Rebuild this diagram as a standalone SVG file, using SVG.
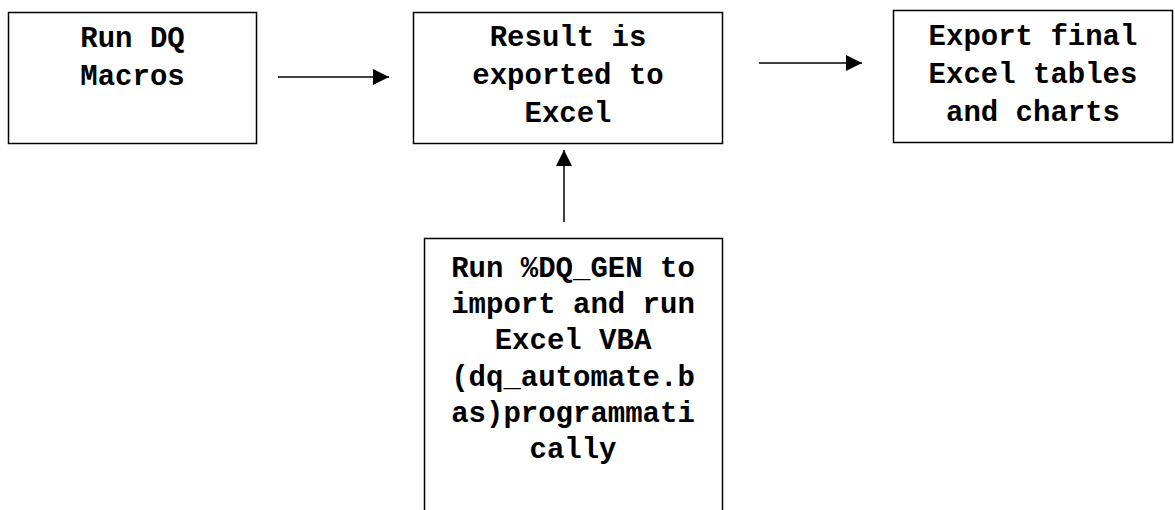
<svg xmlns="http://www.w3.org/2000/svg" width="1175" height="510" viewBox="0 0 1175 510">
<defs>
<marker id="ah" markerWidth="16" markerHeight="16" refX="16" refY="8" orient="auto" markerUnits="userSpaceOnUse">
<path d="M0,0 L16,8 L0,16 Z" fill="#000"/>
</marker>
<style>
.box{fill:#fff;stroke:#000;stroke-width:1.5}
.t{font-family:"Liberation Mono","Courier New",monospace;font-weight:bold;font-size:29px;fill:#000;text-anchor:middle}
.c{stroke:#000;stroke-width:1.5;fill:none}
</style>
</defs>
<rect width="1175" height="510" fill="#fff"/>
<g id="n1">
<rect class="box" x="8.5" y="12.5" width="248" height="131"/>
<text class="t" x="132.5" y="47">Run DQ</text>
<text class="t" x="132.5" y="85">Macros</text>
</g>
<g id="n2">
<rect class="box" x="413.5" y="12.5" width="309" height="131"/>
<text class="t" x="568" y="46">Result is</text>
<text class="t" x="568" y="84">exported to</text>
<text class="t" x="568" y="122">Excel</text>
</g>
<g id="n3">
<rect class="box" x="893.5" y="10.5" width="279" height="132"/>
<text class="t" x="1033" y="45">Export final</text>
<text class="t" x="1033" y="83">Excel tables</text>
<text class="t" x="1033" y="121">and charts</text>
</g>
<g id="n4">
<rect class="box" x="424.5" y="238.5" width="298" height="290"/>
<text class="t" x="573" y="277">Run %DQ_GEN to</text>
<text class="t" x="573" y="313">import and run</text>
<text class="t" x="573" y="349">Excel VBA</text>
<text class="t" x="573" y="386">(dq_automate.b</text>
<text class="t" x="573" y="422">as)programmati</text>
<text class="t" x="573" y="458">cally</text>
</g>
<g id="connectors">
<line class="c" x1="278" y1="77" x2="389" y2="77" marker-end="url(#ah)"/>
<line class="c" x1="759" y1="63" x2="862" y2="63" marker-end="url(#ah)"/>
<line class="c" x1="564" y1="222" x2="564" y2="150" marker-end="url(#ah)"/>
</g>
</svg>
